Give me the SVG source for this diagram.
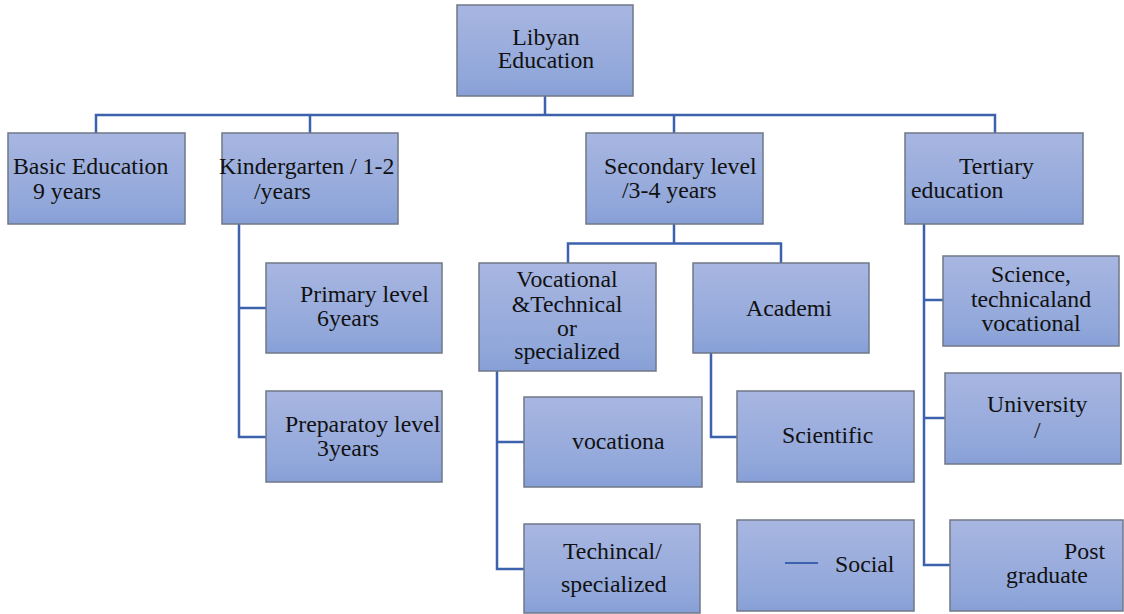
<svg xmlns="http://www.w3.org/2000/svg" width="1124" height="614" viewBox="0 0 1124 614">
<defs>
<linearGradient id="g" x1="0" y1="0" x2="0" y2="1">
<stop offset="0" stop-color="#a8b6e1"/>
<stop offset="0.8" stop-color="#91a7da"/>
<stop offset="1" stop-color="#869fd6"/>
</linearGradient>
<style>
.box{fill:url(#g);stroke:#707887;stroke-width:1.5}
.c{fill:none;stroke:#3d62ad;stroke-width:2.5}
</style>
</defs>
<rect width="1124" height="614" fill="#fff"/>
<g id="connectors">
<path class="c" d="M545 96V115M96 133V115H995V133M310 115V133M674 115V133"/>
<path class="c" d="M239 224V437H266M239 308H266"/>
<path class="c" d="M674 224V243.5M568 263V243.5H781V263"/>
<path class="c" d="M497 371V569H524M497 442H524"/>
<path class="c" d="M711 353V437H737"/>
<path class="c" d="M924 224V565H950M924 300H943M924 418H945"/>
</g>
<g font-family="Liberation Serif, Tinos, Times New Roman, DejaVu Serif, serif" font-size="23.8" fill="#111">
<g id="root"><rect class="box" x="457" y="5" width="176" height="91"/>
<text x="546" y="45" text-anchor="middle">Libyan</text>
<text x="546" y="68" text-anchor="middle">Education</text></g>
<g id="basic"><rect class="box" x="8" y="133" width="177" height="91"/>
<text x="13" y="174">Basic Education</text>
<text x="33" y="199">9 years</text></g>
<g id="kindergarten"><rect class="box" x="222" y="133" width="176" height="91"/>
<text x="219" y="174">Kindergarten / 1-2</text>
<text x="254" y="199">/years</text></g>
<g id="secondary"><rect class="box" x="586" y="133" width="177" height="91"/>
<text x="604" y="174">Secondary level</text>
<text x="622" y="198">/3-4 years</text></g>
<g id="tertiary"><rect class="box" x="905" y="133" width="178" height="91"/>
<text x="959" y="174">Tertiary</text>
<text x="911" y="198">education</text></g>
<g id="primary"><rect class="box" x="266" y="263" width="176" height="90"/>
<text x="300" y="302">Primary level</text>
<text x="317" y="326">6years</text></g>
<g id="preparatory"><rect class="box" x="266" y="391" width="176" height="91"/>
<text x="285" y="432">Preparatoy level</text>
<text x="317" y="456">3years</text></g>
<g id="vocational-technical"><rect class="box" x="479" y="263" width="177" height="108"/>
<text x="567" y="287" text-anchor="middle">Vocational</text>
<text x="567" y="312" text-anchor="middle">&amp;Technical</text>
<text x="567" y="336" text-anchor="middle">or</text>
<text x="567" y="359" text-anchor="middle">specialized</text></g>
<g id="academi"><rect class="box" x="693" y="263" width="176" height="90"/>
<text x="746" y="316">Academi</text></g>
<g id="vocationa"><rect class="box" x="524" y="397" width="178" height="90"/>
<text x="572" y="449">vocationa</text></g>
<g id="techincal"><rect class="box" x="524" y="524" width="176" height="89"/>
<text x="563" y="559">Techincal/</text>
<text x="561" y="592">specialized</text></g>
<g id="scientific"><rect class="box" x="737" y="391" width="177" height="91"/>
<text x="782" y="443">Scientific</text></g>
<g id="social"><rect class="box" x="737" y="520" width="177" height="91"/>
<line x1="785" y1="563" x2="818" y2="563" stroke="#3d62ad" stroke-width="2"/>
<text x="835" y="572">Social</text></g>
<g id="science-technical"><rect class="box" x="943" y="256" width="176" height="90"/>
<text x="1031" y="282" text-anchor="middle">Science,</text>
<text x="1031" y="307" text-anchor="middle">technicaland</text>
<text x="1031" y="331" text-anchor="middle">vocational</text></g>
<g id="university"><rect class="box" x="945" y="373" width="176" height="91"/>
<text x="987" y="412">University</text>
<text x="1034" y="438">/</text></g>
<g id="postgraduate"><rect class="box" x="950" y="520" width="173" height="91"/>
<text x="1064" y="559">Post</text>
<text x="1006" y="583">graduate</text></g>
</g>
</svg>
